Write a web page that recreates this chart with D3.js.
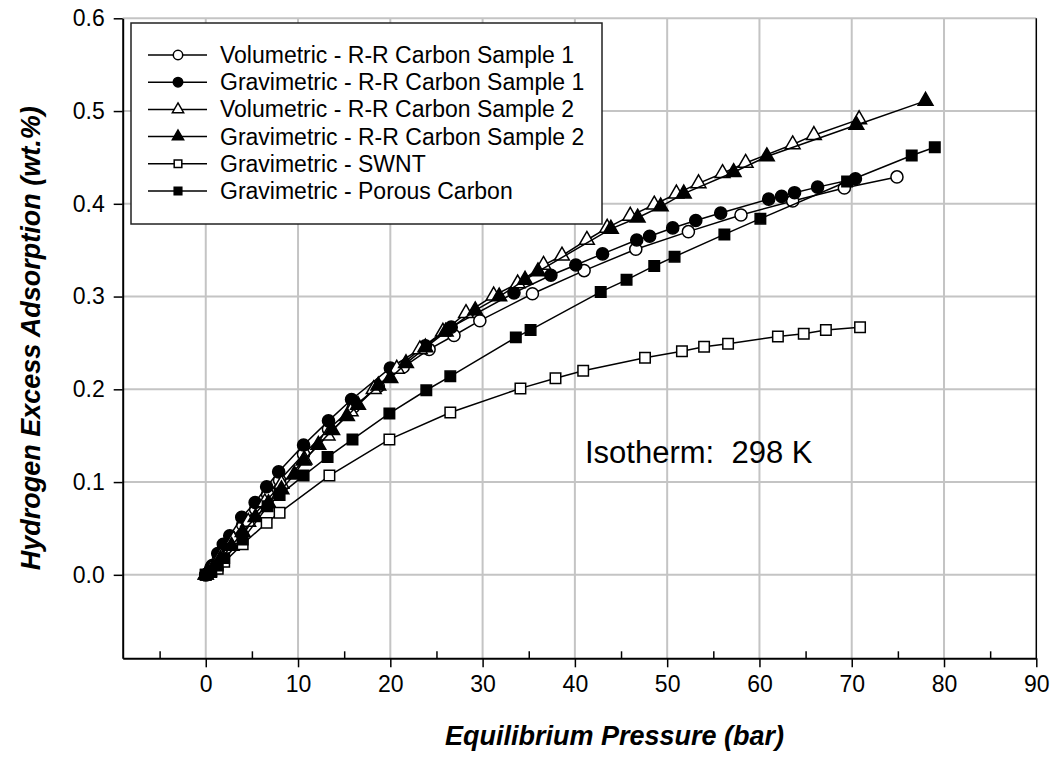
<!DOCTYPE html>
<html lang="en">
  <head>
    <meta charset="UTF-8" />
    <title>Hydrogen Excess Adsorption</title>
    <script src="https://d3js.org/d3.v7.min.js"></script>
    <style>
      body {
        margin: 0;
        background: #fff;
        font-family: 'Liberation Sans', Arial, Helvetica, sans-serif;
      }
      .tick text {
        font-size: 23px;
        fill: #000;
      }
      .axis-title {
        font-size: 27px;
        font-weight: bold;
        font-style: italic;
      }
      .legend-label {
        font-size: 23px;
      }
      .note {
        font-size: 31px;
        white-space: pre;
      }
    </style>
  </head>
  <body>
    <script>
      // series data (pressure in bar, adsorption in wt.%)
      const vol1P = [0, 0.6, 1.4, 2.6, 4.0, 5.4, 6.7, 8.0, 10.6, 13.3, 16.0, 18.7, 21.4, 24.2, 26.9, 29.7, 35.4, 41.0, 46.6, 52.3, 58.0, 63.6, 69.2, 74.9];
      const vol1A = [0, 0.008, 0.019, 0.036, 0.054, 0.071, 0.087, 0.102, 0.13, 0.157, 0.181, 0.203, 0.224, 0.243, 0.258, 0.274, 0.303, 0.328, 0.351, 0.37, 0.388, 0.403, 0.417, 0.429];

      const grav1P = [0, 0.7, 1.3, 1.9, 2.6, 3.9, 5.35, 6.6, 7.9, 10.6, 13.3, 15.8, 20.0, 23.8, 26.6, 33.4, 37.4, 40.1, 43.0, 46.7, 48.1, 50.6, 53.1, 55.8, 61.0, 62.4, 63.8, 66.3, 70.4];
      const grav1A = [0, 0.01, 0.023, 0.033, 0.042, 0.062, 0.078, 0.095, 0.111, 0.14, 0.166, 0.189, 0.223, 0.247, 0.267, 0.304, 0.323, 0.334, 0.346, 0.361, 0.365, 0.374, 0.382, 0.39, 0.405, 0.408, 0.412, 0.418, 0.427];

      const vol2P = [0, 0.6, 1.6, 3.0, 4.6, 6.4, 8.2, 10.7, 13.2, 15.7, 18.2, 20.7, 23.2, 25.7, 28.2, 31.2, 33.8, 36.6, 38.6, 41.3, 43.5, 46.0, 48.6, 51.0, 53.4, 56.0, 58.5, 63.6, 65.9, 70.8];
      const vol2A = [0, 0.007, 0.02, 0.038, 0.057, 0.078, 0.098, 0.124, 0.15, 0.176, 0.2, 0.222, 0.243, 0.262, 0.282, 0.301, 0.314, 0.334, 0.344, 0.361, 0.374, 0.387, 0.399, 0.411, 0.422, 0.433, 0.444, 0.464, 0.474, 0.491];

      const grav2P = [0, 0.7, 1.6, 2.8, 4.0, 5.4, 6.8, 8.2, 9.6, 10.6, 12.2, 13.7, 15.3, 16.5, 18.7, 20.0, 21.7, 23.8, 26.0, 29.2, 31.8, 34.6, 36.0, 43.9, 46.8, 49.3, 51.8, 57.2, 60.8, 70.5, 78.0];
      const grav2A = [0, 0.006, 0.017, 0.031, 0.046, 0.062, 0.077, 0.092, 0.108, 0.123, 0.14, 0.156, 0.171, 0.183, 0.204, 0.212, 0.228, 0.245, 0.262, 0.285, 0.3, 0.318, 0.327, 0.373, 0.385, 0.397, 0.411, 0.434, 0.451, 0.485, 0.511];

      const swntP = [0, 0.6, 1.3, 2.0, 4.0, 6.6, 8.0, 13.4, 19.9, 26.5, 34.1, 37.9, 40.9, 47.6, 51.6, 54.0, 56.6, 62.0, 64.8, 67.2, 70.9];
      const swntA = [0, 0.003, 0.0065, 0.014, 0.033, 0.056, 0.067, 0.107, 0.146, 0.175, 0.201, 0.212, 0.22, 0.234, 0.241, 0.246, 0.249, 0.257, 0.26, 0.264, 0.267];

      const porousP = [0, 0.6, 1.3, 2.0, 4.0, 6.7, 8.0, 10.6, 13.2, 15.9, 19.9, 23.9, 26.5, 33.6, 35.2, 42.8, 45.6, 48.6, 50.8, 56.2, 60.1, 69.5, 76.5, 79.0];
      const porousA = [0, 0.004, 0.01, 0.018, 0.038, 0.074, 0.086, 0.107, 0.127, 0.146, 0.174, 0.199, 0.214, 0.256, 0.264, 0.305, 0.318, 0.333, 0.343, 0.367, 0.384, 0.424, 0.452, 0.461];

      const seriesNames = [
        'Volumetric - R-R Carbon Sample 1',
        'Gravimetric - R-R Carbon Sample 1',
        'Volumetric - R-R Carbon Sample 2',
        'Gravimetric - R-R Carbon Sample 2',
        'Gravimetric - SWNT',
        'Gravimetric - Porous Carbon',
      ];
      const xTicks = [0, 10, 20, 30, 40, 50, 60, 70, 80, 90];
      const xMinorTicks = [-5, 5, 15, 25, 35, 45, 55, 65, 75, 85];
      const yTicks = [0, 0.1, 0.2, 0.3, 0.4, 0.5, 0.6];
      const note = 'Isotherm:  298 K';

      const allP = [vol1P, grav1P, vol2P, grav2P, swntP, porousP];
      const allA = [vol1A, grav1A, vol2A, grav2A, swntA, porousA];
      const markerStyle = [
        { shape: d3.symbolCircle, filled: false },
        { shape: d3.symbolCircle, filled: true },
        { shape: d3.symbolTriangle, filled: false },
        { shape: d3.symbolTriangle, filled: true },
        { shape: d3.symbolSquare, filled: false },
        { shape: d3.symbolSquare, filled: true },
      ];
      const markerSize = { circle: 115, triangle: 95, square: 110 };
      const legendSize = { circle: 70, triangle: 55, square: 58 };
      const sizeOf = (shape, sizes) =>
        shape === d3.symbolCircle ? sizes.circle : shape === d3.symbolTriangle ? sizes.triangle : sizes.square;

      const series = seriesNames.map((name, i) => ({
        name,
        ...markerStyle[i],
        points: allP[i].map((p, j) => ({ p, a: allA[i][j] })),
      }));

      const width = 1054;
      const height = 765;
      const plot = { left: 122.7, right: 1036.3, top: 18.3, bottom: 658.3 };

      const x = d3.scaleLinear().domain([-9, 90]).range([plot.left, plot.right]);
      const y = d3.scaleLinear().domain([-0.09, 0.6]).range([plot.bottom, plot.top]);

      const svg = d3.select('body').append('svg').attr('width', width).attr('height', height);

      // grid
      const grid = svg.append('g').attr('stroke', '#c4c4c4').attr('stroke-width', 2);
      grid
        .selectAll('line.v')
        .data(xTicks.filter((d) => d < 90))
        .join('line')
        .attr('class', 'v')
        .attr('x1', (d) => x(d))
        .attr('x2', (d) => x(d))
        .attr('y1', plot.top)
        .attr('y2', plot.bottom);
      grid
        .selectAll('line.h')
        .data(yTicks)
        .join('line')
        .attr('class', 'h')
        .attr('x1', plot.left)
        .attr('x2', plot.right)
        .attr('y1', (d) => y(d))
        .attr('y2', (d) => y(d));

      // right frame line
      svg
        .append('line')
        .attr('x1', plot.right)
        .attr('x2', plot.right)
        .attr('y1', plot.top)
        .attr('y2', plot.bottom)
        .attr('stroke', '#000')
        .attr('stroke-width', 1.5);

      // axes
      const xAxis = d3.axisBottom(x).tickValues(xTicks).tickFormat(d3.format('d')).tickSize(9).tickSizeOuter(0).tickPadding(8);
      svg.append('g').attr('transform', `translate(0,${plot.bottom})`).call(xAxis);
      const xMinor = d3.axisTop(x).tickValues(xMinorTicks).tickFormat('').tickSize(7).tickSizeOuter(0);
      const gxm = svg.append('g').attr('transform', `translate(0,${plot.bottom})`).call(xMinor);
      gxm.select('.domain').remove();

      const yAxis = d3.axisLeft(y).tickValues(yTicks).tickFormat(d3.format('.1f')).tickSize(9).tickSizeOuter(0).tickPadding(9);
      svg.append('g').attr('transform', `translate(${plot.left},0)`).call(yAxis);

      svg.selectAll('.domain').attr('stroke-width', 2);
      svg.selectAll('.tick line').attr('stroke-width', 1.5);
      svg.selectAll('g').attr('font-family', null).attr('font-size', null);

      // series
      const line = d3
        .line()
        .x((d) => x(d.p))
        .y((d) => y(d.a));

      const seriesGroup = svg
        .selectAll('g.series')
        .data(series)
        .join('g')
        .attr('class', 'series');

      seriesGroup
        .append('path')
        .attr('d', (d) => line(d.points))
        .attr('fill', 'none')
        .attr('stroke', '#000')
        .attr('stroke-width', 1.5);

      seriesGroup.each(function (s) {
        d3.select(this)
          .selectAll('path.mark')
          .data(s.points)
          .join('path')
          .attr('class', 'mark')
          .attr('transform', (d) => `translate(${x(d.p)},${y(d.a)})`)
          .attr('d', d3.symbol(s.shape, sizeOf(s.shape, markerSize)))
          .attr('fill', s.filled ? '#000' : '#fff')
          .attr('stroke', '#000')
          .attr('stroke-width', 1.5);
      });

      // legend
      const legend = svg.append('g').attr('transform', 'translate(131,23)');
      legend
        .append('rect')
        .attr('width', 471)
        .attr('height', 201)
        .attr('fill', '#fff')
        .attr('stroke', '#222')
        .attr('stroke-width', 1.5);

      const rows = legend
        .selectAll('g.row')
        .data(series)
        .join('g')
        .attr('class', 'row')
        .attr('transform', (d, i) => `translate(0,${32 + i * 27.2})`);

      rows
        .append('line')
        .attr('x1', 17)
        .attr('x2', 76)
        .attr('stroke', '#000')
        .attr('stroke-width', 1.5);
      rows
        .append('path')
        .attr('transform', 'translate(47,0)')
        .attr('d', (d) => d3.symbol(d.shape, sizeOf(d.shape, legendSize))())
        .attr('fill', (d) => (d.filled ? '#000' : '#fff'))
        .attr('stroke', '#000')
        .attr('stroke-width', 1.5);
      rows
        .append('text')
        .attr('class', 'legend-label')
        .attr('x', 89)
        .attr('dy', '0.35em')
        .text((d) => d.name);

      // annotation and titles
      svg
        .append('text')
        .attr('class', 'note')
        .attr('x', 585)
        .attr('y', 452)
        .attr('dy', '0.35em')
        .text(note);

      svg
        .append('text')
        .attr('class', 'axis-title')
        .attr('x', (plot.left + plot.right) / 2 + 35)
        .attr('y', 745)
        .attr('text-anchor', 'middle')
        .text('Equilibrium Pressure (bar)');

      svg
        .append('text')
        .attr('class', 'axis-title')
        .attr('transform', `translate(40,${(plot.top + plot.bottom) / 2}) rotate(-90)`)
        .attr('text-anchor', 'middle')
        .text('Hydrogen Excess Adsorption (wt.%)');
    </script>
  </body>
</html>
